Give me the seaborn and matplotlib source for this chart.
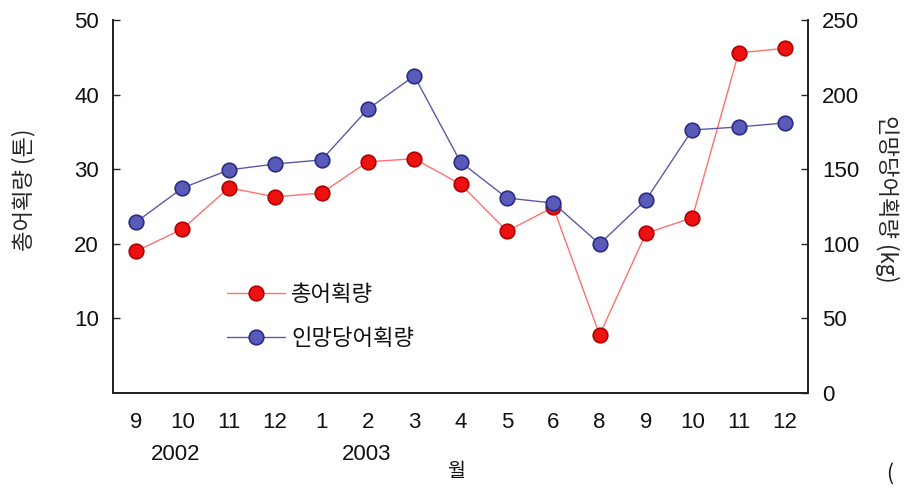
import matplotlib
matplotlib.use("Agg")
import matplotlib.pyplot as plt
import seaborn as sns
import pandas as pd
import numpy as np

# -------------------- Data --------------------
months = ['9', '10', '11', '12', '1', '2', '3', '4', '5', '6', '8', '9', '10', '11', '12']
total_catch = [19.0, 22.0, 27.5, 26.3, 26.8, 31.0, 31.4, 28.0, 21.7, 24.9, 7.8, 21.4, 23.5, 45.6, 46.2]
catch_per_haul = [114.6, 137.4, 149.5, 153.5, 156.2, 190.3, 212.5, 154.8, 130.7, 127.3, 99.9, 129.4, 176.3, 178.3, 181.0]
years = ['2002', '2003']

df = pd.DataFrame({
    'pos': np.arange(len(months)),
    'total': total_catch,
    'per_haul': catch_per_haul,
})

# -------------------- Style --------------------
sns.set_style("white")
plt.rcParams['font.family'] = ['Noto Sans CJK KR', 'DejaVu Sans']
plt.rcParams['text.color'] = '#111111'
num_font = ['Liberation Sans', 'DejaVu Sans']

fig = plt.figure(figsize=(9.06, 4.88), dpi=100)
ax = fig.add_axes([0.1247, 0.1947, 0.7673, 0.7643])
ax2 = ax.twinx()

sns.lineplot(data=df, x='pos', y='total', ax=ax, color='#ff7070', lw=1.0,
             marker='o', markersize=10.5, markerfacecolor='#ee1111',
             markeredgecolor='#b00000', markeredgewidth=1.2, label='총어획량', legend=False)
sns.lineplot(data=df, x='pos', y='per_haul', ax=ax2, color='#5a5aaa', lw=1.0,
             marker='o', markersize=10.5, markerfacecolor='#5a5ab8',
             markeredgecolor='#2a2a88', markeredgewidth=1.2, label='인망당어획량', legend=False)

# -------------------- Axes --------------------
ax.set_xlim(-0.5, len(months) - 0.5)
ax.set_ylim(0, 50)
ax2.set_ylim(0, 250)

ax.set_yticks([10, 20, 30, 40, 50])
ax2.set_yticks([0, 50, 100, 150, 200, 250])
ax.set_xticks(df['pos'])
ax.set_xticklabels(months)
ax.set_xticks(np.arange(-0.5, len(months)), minor=True)

for a in (ax, ax2):
    a.spines['top'].set_visible(False)
    for s in a.spines.values():
        s.set_linewidth(1.3)
        s.set_color('#222222')
    a.grid(False)
    a.set_xlabel('')

ax.tick_params(axis='y', direction='in', length=5, width=1, pad=10, labelsize=16, labelcolor='#111111')
ax2.tick_params(axis='y', direction='in', length=5, width=1, pad=10, labelsize=16, labelcolor='#111111')
ax.tick_params(axis='x', which='major', length=0, pad=14, labelsize=16, labelcolor='#111111')
ax.tick_params(axis='x', which='minor', direction='in', length=5, width=1)
for lab in ax.get_xticklabels() + ax.get_yticklabels() + ax2.get_yticklabels():
    lab.set_family(num_font)

ax.set_ylabel('총어획량 (톤)', fontsize=16)
ax.yaxis.set_label_coords(-0.112, 0.545)
ax2.set_ylabel('인망당어획량 (kg)', fontsize=16, rotation=270)
ax2.yaxis.set_label_coords(1.131, 0.52)

# year labels and x-axis title
ax.text(0.85, -0.166, years[0], transform=ax.get_xaxis_transform(), ha='center', va='center',
        fontsize=16, family=num_font)
ax.text(4.98, -0.166, years[1], transform=ax.get_xaxis_transform(), ha='center', va='center',
        fontsize=16, family=num_font)
ax.text(6.9, -0.21, '월', transform=ax.get_xaxis_transform(), ha='center', va='center', fontsize=14)
fig.text(0.982, 0.03, '(', ha='center', va='center', fontsize=15)

# -------------------- Legend --------------------
h1, l1 = ax.get_legend_handles_labels()
h2, l2 = ax2.get_legend_handles_labels()
leg = ax.legend(h1 + h2, l1 + l2, loc='upper left', bbox_to_anchor=(0.151, 0.32),
                frameon=False, fontsize=16, handlelength=2.6, handletextpad=0.3,
                labelspacing=0.95, borderaxespad=0)

fig.savefig('out.png', dpi=100)
